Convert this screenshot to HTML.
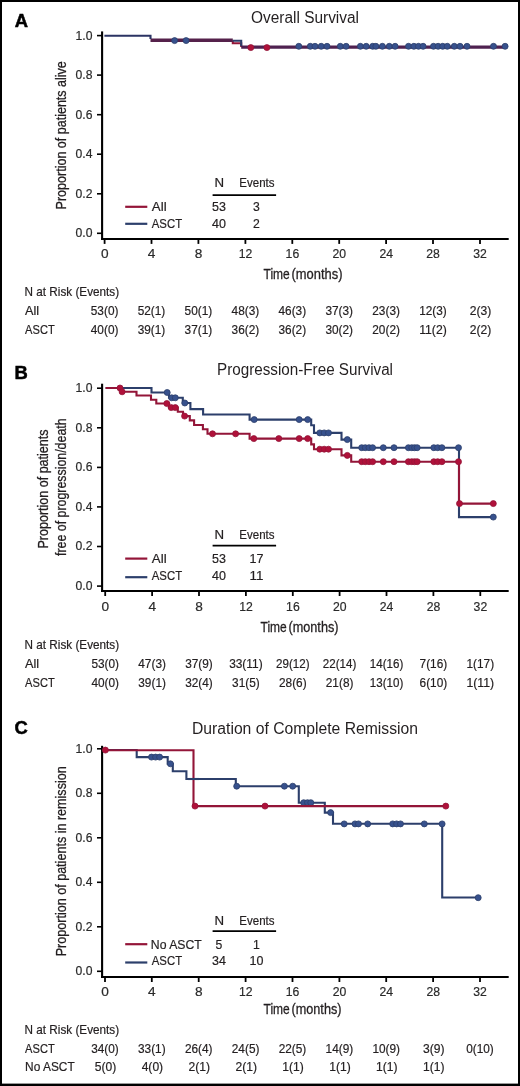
<!DOCTYPE html>
<html><head><meta charset="utf-8"><title>Survival curves</title>
<style>
html,body{margin:0;padding:0;background:#fff;}
body{width:520px;height:1086px;overflow:hidden;position:relative;font-family:"Liberation Sans", sans-serif;}
svg{position:absolute;left:0;top:0;display:block;font-family:"Liberation Sans", sans-serif;will-change:transform;}
</style></head>
<body>
<svg width="520" height="1086" viewBox="0 0 520 1086">
<rect x="0" y="0" width="520" height="1086" fill="#fff"/>
<line x1="102.1" y1="31.4" x2="102.1" y2="239.9" stroke="#000" stroke-width="2.1"/>
<line x1="101" y1="238.9" x2="508.7" y2="238.9" stroke="#000" stroke-width="2"/>
<line x1="97" y1="233.3" x2="102" y2="233.3" stroke="#000" stroke-width="1.6"/>
<text x="92.4" y="237.2" font-size="12.9" text-anchor="end" textLength="16.9" lengthAdjust="spacingAndGlyphs" fill="#2a2a2a" stroke="#2a2a2a" stroke-width="0.2">0.0</text>
<line x1="97" y1="193.8" x2="102" y2="193.8" stroke="#000" stroke-width="1.6"/>
<text x="92.4" y="197.7" font-size="12.9" text-anchor="end" textLength="16.9" lengthAdjust="spacingAndGlyphs" fill="#2a2a2a" stroke="#2a2a2a" stroke-width="0.2">0.2</text>
<line x1="97" y1="154.2" x2="102" y2="154.2" stroke="#000" stroke-width="1.6"/>
<text x="92.4" y="158.1" font-size="12.9" text-anchor="end" textLength="16.9" lengthAdjust="spacingAndGlyphs" fill="#2a2a2a" stroke="#2a2a2a" stroke-width="0.2">0.4</text>
<line x1="97" y1="114.7" x2="102" y2="114.7" stroke="#000" stroke-width="1.6"/>
<text x="92.4" y="118.6" font-size="12.9" text-anchor="end" textLength="16.9" lengthAdjust="spacingAndGlyphs" fill="#2a2a2a" stroke="#2a2a2a" stroke-width="0.2">0.6</text>
<line x1="97" y1="75.1" x2="102" y2="75.1" stroke="#000" stroke-width="1.6"/>
<text x="92.4" y="79.0" font-size="12.9" text-anchor="end" textLength="16.9" lengthAdjust="spacingAndGlyphs" fill="#2a2a2a" stroke="#2a2a2a" stroke-width="0.2">0.8</text>
<line x1="97" y1="35.6" x2="102" y2="35.6" stroke="#000" stroke-width="1.6"/>
<text x="92.4" y="39.5" font-size="12.9" text-anchor="end" textLength="16.9" lengthAdjust="spacingAndGlyphs" fill="#2a2a2a" stroke="#2a2a2a" stroke-width="0.2">1.0</text>
<line x1="104.6" y1="238.9" x2="104.6" y2="243.9" stroke="#000" stroke-width="1.8"/>
<text x="104.7" y="257.7" font-size="13.4" text-anchor="middle" textLength="7.6" lengthAdjust="spacingAndGlyphs" fill="#2a2a2a" stroke="#2a2a2a" stroke-width="0.2">0</text>
<line x1="151.5" y1="238.9" x2="151.5" y2="243.9" stroke="#000" stroke-width="1.8"/>
<text x="151.6" y="257.7" font-size="13.4" text-anchor="middle" textLength="7.6" lengthAdjust="spacingAndGlyphs" fill="#2a2a2a" stroke="#2a2a2a" stroke-width="0.2">4</text>
<line x1="198.4" y1="238.9" x2="198.4" y2="243.9" stroke="#000" stroke-width="1.8"/>
<text x="198.5" y="257.7" font-size="13.4" text-anchor="middle" textLength="7.6" lengthAdjust="spacingAndGlyphs" fill="#2a2a2a" stroke="#2a2a2a" stroke-width="0.2">8</text>
<line x1="245.4" y1="238.9" x2="245.4" y2="243.9" stroke="#000" stroke-width="1.8"/>
<text x="245.5" y="257.7" font-size="13.4" text-anchor="middle" textLength="13.6" lengthAdjust="spacingAndGlyphs" fill="#2a2a2a" stroke="#2a2a2a" stroke-width="0.2">12</text>
<line x1="292.3" y1="238.9" x2="292.3" y2="243.9" stroke="#000" stroke-width="1.8"/>
<text x="292.4" y="257.7" font-size="13.4" text-anchor="middle" textLength="13.6" lengthAdjust="spacingAndGlyphs" fill="#2a2a2a" stroke="#2a2a2a" stroke-width="0.2">16</text>
<line x1="339.2" y1="238.9" x2="339.2" y2="243.9" stroke="#000" stroke-width="1.8"/>
<text x="339.3" y="257.7" font-size="13.4" text-anchor="middle" textLength="13.6" lengthAdjust="spacingAndGlyphs" fill="#2a2a2a" stroke="#2a2a2a" stroke-width="0.2">20</text>
<line x1="386.1" y1="238.9" x2="386.1" y2="243.9" stroke="#000" stroke-width="1.8"/>
<text x="386.2" y="257.7" font-size="13.4" text-anchor="middle" textLength="13.6" lengthAdjust="spacingAndGlyphs" fill="#2a2a2a" stroke="#2a2a2a" stroke-width="0.2">24</text>
<line x1="433.0" y1="238.9" x2="433.0" y2="243.9" stroke="#000" stroke-width="1.8"/>
<text x="433.1" y="257.7" font-size="13.4" text-anchor="middle" textLength="13.6" lengthAdjust="spacingAndGlyphs" fill="#2a2a2a" stroke="#2a2a2a" stroke-width="0.2">28</text>
<line x1="480.0" y1="238.9" x2="480.0" y2="243.9" stroke="#000" stroke-width="1.8"/>
<text x="480.1" y="257.7" font-size="13.4" text-anchor="middle" textLength="13.6" lengthAdjust="spacingAndGlyphs" fill="#2a2a2a" stroke="#2a2a2a" stroke-width="0.2">32</text>
<text x="14.8" y="26.5" font-size="18.4" text-anchor="start" font-weight="bold" fill="#000" stroke="#000" stroke-width="0.5">A</text>
<text x="305" y="22.9" font-size="16" text-anchor="middle" textLength="108" lengthAdjust="spacingAndGlyphs" fill="#231f20" >Overall Survival</text>
<text transform="translate(66,135.3) rotate(-90)" x="0" y="0" font-size="15.5" text-anchor="middle" textLength="148.2" lengthAdjust="spacingAndGlyphs" fill="#231f20" stroke="#231f20" stroke-width="0.3">Proportion of patients alive</text>
<text x="263.5" y="279.4" font-size="14.6" text-anchor="start" textLength="26.2" lengthAdjust="spacingAndGlyphs" fill="#231f20" stroke="#231f20" stroke-width="0.3">Time</text>
<text x="291.5" y="279.4" font-size="14.6" text-anchor="start" textLength="51.0" lengthAdjust="spacingAndGlyphs" fill="#231f20" stroke="#231f20" stroke-width="0.3">(months)</text>
<text x="214.6" y="186.6" font-size="12.6" text-anchor="start" textLength="9.6" lengthAdjust="spacingAndGlyphs" fill="#231f20" stroke="#231f20" stroke-width="0.2">N</text>
<text x="239.3" y="186.6" font-size="12.6" text-anchor="start" textLength="35.2" lengthAdjust="spacingAndGlyphs" fill="#231f20" stroke="#231f20" stroke-width="0.2">Events</text>
<line x1="212.6" y1="195.1" x2="276.1" y2="195.1" stroke="#000" stroke-width="1.8"/>
<line x1="125.2" y1="206.8" x2="147.3" y2="206.8" stroke="#931538" stroke-width="2.2"/>
<text x="151.8" y="210.6" font-size="12.6" text-anchor="start" textLength="14.8" lengthAdjust="spacingAndGlyphs" fill="#231f20" stroke="#231f20" stroke-width="0.2">All</text>
<text x="219" y="210.6" font-size="12.6" text-anchor="middle" textLength="13.9" lengthAdjust="spacingAndGlyphs" fill="#231f20" stroke="#231f20" stroke-width="0.2">53</text>
<text x="256.5" y="210.6" font-size="12.6" text-anchor="middle" textLength="6.8" lengthAdjust="spacingAndGlyphs" fill="#231f20" stroke="#231f20" stroke-width="0.2">3</text>
<line x1="125.2" y1="223.8" x2="147.3" y2="223.8" stroke="#2c3f6b" stroke-width="2.2"/>
<text x="151.8" y="227.9" font-size="12.6" text-anchor="start" textLength="30.3" lengthAdjust="spacingAndGlyphs" fill="#231f20" stroke="#231f20" stroke-width="0.2">ASCT</text>
<text x="219" y="227.9" font-size="12.6" text-anchor="middle" textLength="13.9" lengthAdjust="spacingAndGlyphs" fill="#231f20" stroke="#231f20" stroke-width="0.2">40</text>
<text x="256.5" y="227.9" font-size="12.6" text-anchor="middle" textLength="6.8" lengthAdjust="spacingAndGlyphs" fill="#231f20" stroke="#231f20" stroke-width="0.2">2</text>
<text x="24.6" y="295.8" font-size="12.4" text-anchor="start" textLength="94.5" lengthAdjust="spacingAndGlyphs" fill="#231f20" stroke="#231f20" stroke-width="0.2">N at Risk (Events)</text>
<text x="25.1" y="314.9" font-size="12.4" text-anchor="start" textLength="14.1" lengthAdjust="spacingAndGlyphs" fill="#231f20" stroke="#231f20" stroke-width="0.2">All</text>
<text x="104.6" y="314.9" font-size="12.4" text-anchor="middle" textLength="27.6" lengthAdjust="spacingAndGlyphs" fill="#231f20" stroke="#231f20" stroke-width="0.2">53(0)</text>
<text x="151.5" y="314.9" font-size="12.4" text-anchor="middle" textLength="27.6" lengthAdjust="spacingAndGlyphs" fill="#231f20" stroke="#231f20" stroke-width="0.2">52(1)</text>
<text x="198.4" y="314.9" font-size="12.4" text-anchor="middle" textLength="27.6" lengthAdjust="spacingAndGlyphs" fill="#231f20" stroke="#231f20" stroke-width="0.2">50(1)</text>
<text x="245.4" y="314.9" font-size="12.4" text-anchor="middle" textLength="27.6" lengthAdjust="spacingAndGlyphs" fill="#231f20" stroke="#231f20" stroke-width="0.2">48(3)</text>
<text x="292.3" y="314.9" font-size="12.4" text-anchor="middle" textLength="27.6" lengthAdjust="spacingAndGlyphs" fill="#231f20" stroke="#231f20" stroke-width="0.2">46(3)</text>
<text x="339.2" y="314.9" font-size="12.4" text-anchor="middle" textLength="27.6" lengthAdjust="spacingAndGlyphs" fill="#231f20" stroke="#231f20" stroke-width="0.2">37(3)</text>
<text x="386.1" y="314.9" font-size="12.4" text-anchor="middle" textLength="27.6" lengthAdjust="spacingAndGlyphs" fill="#231f20" stroke="#231f20" stroke-width="0.2">23(3)</text>
<text x="433.0" y="314.9" font-size="12.4" text-anchor="middle" textLength="27.6" lengthAdjust="spacingAndGlyphs" fill="#231f20" stroke="#231f20" stroke-width="0.2">12(3)</text>
<text x="480.6" y="314.9" font-size="12.4" text-anchor="middle" textLength="21.5" lengthAdjust="spacingAndGlyphs" fill="#231f20" stroke="#231f20" stroke-width="0.2">2(3)</text>
<text x="25.1" y="333.7" font-size="12.4" text-anchor="start" textLength="29.6" lengthAdjust="spacingAndGlyphs" fill="#231f20" stroke="#231f20" stroke-width="0.2">ASCT</text>
<text x="104.6" y="333.7" font-size="12.4" text-anchor="middle" textLength="27.6" lengthAdjust="spacingAndGlyphs" fill="#231f20" stroke="#231f20" stroke-width="0.2">40(0)</text>
<text x="151.5" y="333.7" font-size="12.4" text-anchor="middle" textLength="27.6" lengthAdjust="spacingAndGlyphs" fill="#231f20" stroke="#231f20" stroke-width="0.2">39(1)</text>
<text x="198.4" y="333.7" font-size="12.4" text-anchor="middle" textLength="27.6" lengthAdjust="spacingAndGlyphs" fill="#231f20" stroke="#231f20" stroke-width="0.2">37(1)</text>
<text x="245.4" y="333.7" font-size="12.4" text-anchor="middle" textLength="27.6" lengthAdjust="spacingAndGlyphs" fill="#231f20" stroke="#231f20" stroke-width="0.2">36(2)</text>
<text x="292.3" y="333.7" font-size="12.4" text-anchor="middle" textLength="27.6" lengthAdjust="spacingAndGlyphs" fill="#231f20" stroke="#231f20" stroke-width="0.2">36(2)</text>
<text x="339.2" y="333.7" font-size="12.4" text-anchor="middle" textLength="27.6" lengthAdjust="spacingAndGlyphs" fill="#231f20" stroke="#231f20" stroke-width="0.2">30(2)</text>
<text x="386.1" y="333.7" font-size="12.4" text-anchor="middle" textLength="27.6" lengthAdjust="spacingAndGlyphs" fill="#231f20" stroke="#231f20" stroke-width="0.2">20(2)</text>
<text x="433.0" y="333.7" font-size="12.4" text-anchor="middle" textLength="27.6" lengthAdjust="spacingAndGlyphs" fill="#231f20" stroke="#231f20" stroke-width="0.2">11(2)</text>
<text x="480.6" y="333.7" font-size="12.4" text-anchor="middle" textLength="21.5" lengthAdjust="spacingAndGlyphs" fill="#231f20" stroke="#231f20" stroke-width="0.2">2(2)</text>
<path d="M232.8,40.2 V43.3 H241.2 V47.1" fill="none" stroke="#931538" stroke-width="2.1" stroke-linejoin="miter" stroke-linecap="butt"/><path d="M150.5,40.25 H232.8" fill="none" stroke="#55214b" stroke-width="3.7" stroke-linejoin="miter" stroke-linecap="butt"/><path d="M241.2,47.1 H506.7" fill="none" stroke="#4f2150" stroke-width="3.4" stroke-linejoin="miter" stroke-linecap="butt"/>
<path d="M104.4,35.8 H150.5 V39" fill="none" stroke="#2b3363" stroke-width="2.1" stroke-linejoin="miter" stroke-linecap="butt"/><path d="M232.8,40.8 H241.2 V46" fill="none" stroke="#2c3f6b" stroke-width="2.1" stroke-linejoin="miter" stroke-linecap="butt"/>
<circle cx="250.8" cy="47.6" r="3.0" fill="#b0113a" stroke="#931538" stroke-width="0.8"/><circle cx="266.9" cy="47.6" r="3.0" fill="#b0113a" stroke="#931538" stroke-width="0.8"/>
<circle cx="174.6" cy="40.6" r="3.0" fill="#37518d" stroke="#2c3f6b" stroke-width="0.8"/><circle cx="186.1" cy="40.6" r="3.0" fill="#37518d" stroke="#2c3f6b" stroke-width="0.8"/><circle cx="298.8" cy="46.3" r="3.0" fill="#37518d" stroke="#2c3f6b" stroke-width="0.8"/><circle cx="310.3" cy="46.3" r="3.0" fill="#37518d" stroke="#2c3f6b" stroke-width="0.8"/><circle cx="315" cy="46.3" r="3.0" fill="#37518d" stroke="#2c3f6b" stroke-width="0.8"/><circle cx="321.2" cy="46.3" r="3.0" fill="#37518d" stroke="#2c3f6b" stroke-width="0.8"/><circle cx="327" cy="46.3" r="3.0" fill="#37518d" stroke="#2c3f6b" stroke-width="0.8"/><circle cx="340.3" cy="46.3" r="3.0" fill="#37518d" stroke="#2c3f6b" stroke-width="0.8"/><circle cx="346.1" cy="46.3" r="3.0" fill="#37518d" stroke="#2c3f6b" stroke-width="0.8"/><circle cx="360.4" cy="46.3" r="3.0" fill="#37518d" stroke="#2c3f6b" stroke-width="0.8"/><circle cx="366.2" cy="46.3" r="3.0" fill="#37518d" stroke="#2c3f6b" stroke-width="0.8"/><circle cx="372.7" cy="46.3" r="3.0" fill="#37518d" stroke="#2c3f6b" stroke-width="0.8"/><circle cx="375.9" cy="46.3" r="3.0" fill="#37518d" stroke="#2c3f6b" stroke-width="0.8"/><circle cx="382.4" cy="46.3" r="3.0" fill="#37518d" stroke="#2c3f6b" stroke-width="0.8"/><circle cx="389.3" cy="46.3" r="3.0" fill="#37518d" stroke="#2c3f6b" stroke-width="0.8"/><circle cx="395.1" cy="46.3" r="3.0" fill="#37518d" stroke="#2c3f6b" stroke-width="0.8"/><circle cx="408.5" cy="46.3" r="3.0" fill="#37518d" stroke="#2c3f6b" stroke-width="0.8"/><circle cx="413.9" cy="46.3" r="3.0" fill="#37518d" stroke="#2c3f6b" stroke-width="0.8"/><circle cx="418.5" cy="46.3" r="3.0" fill="#37518d" stroke="#2c3f6b" stroke-width="0.8"/><circle cx="423.1" cy="46.3" r="3.0" fill="#37518d" stroke="#2c3f6b" stroke-width="0.8"/><circle cx="433.5" cy="46.3" r="3.0" fill="#37518d" stroke="#2c3f6b" stroke-width="0.8"/><circle cx="438.1" cy="46.3" r="3.0" fill="#37518d" stroke="#2c3f6b" stroke-width="0.8"/><circle cx="442.7" cy="46.3" r="3.0" fill="#37518d" stroke="#2c3f6b" stroke-width="0.8"/><circle cx="447.3" cy="46.3" r="3.0" fill="#37518d" stroke="#2c3f6b" stroke-width="0.8"/><circle cx="454.3" cy="46.3" r="3.0" fill="#37518d" stroke="#2c3f6b" stroke-width="0.8"/><circle cx="460" cy="46.3" r="3.0" fill="#37518d" stroke="#2c3f6b" stroke-width="0.8"/><circle cx="467" cy="46.3" r="3.0" fill="#37518d" stroke="#2c3f6b" stroke-width="0.8"/><circle cx="493.5" cy="46.3" r="3.0" fill="#37518d" stroke="#2c3f6b" stroke-width="0.8"/><circle cx="505.1" cy="46.3" r="3.0" fill="#37518d" stroke="#2c3f6b" stroke-width="0.8"/>
<line x1="102.1" y1="383.7" x2="102.1" y2="592.0" stroke="#000" stroke-width="2.1"/>
<line x1="101" y1="591.0" x2="508.7" y2="591.0" stroke="#000" stroke-width="2"/>
<line x1="97" y1="586.1" x2="102" y2="586.1" stroke="#000" stroke-width="1.6"/>
<text x="92.4" y="590.0" font-size="12.9" text-anchor="end" textLength="16.9" lengthAdjust="spacingAndGlyphs" fill="#2a2a2a" stroke="#2a2a2a" stroke-width="0.2">0.0</text>
<line x1="97" y1="546.5" x2="102" y2="546.5" stroke="#000" stroke-width="1.6"/>
<text x="92.4" y="550.4" font-size="12.9" text-anchor="end" textLength="16.9" lengthAdjust="spacingAndGlyphs" fill="#2a2a2a" stroke="#2a2a2a" stroke-width="0.2">0.2</text>
<line x1="97" y1="506.9" x2="102" y2="506.9" stroke="#000" stroke-width="1.6"/>
<text x="92.4" y="510.8" font-size="12.9" text-anchor="end" textLength="16.9" lengthAdjust="spacingAndGlyphs" fill="#2a2a2a" stroke="#2a2a2a" stroke-width="0.2">0.4</text>
<line x1="97" y1="467.4" x2="102" y2="467.4" stroke="#000" stroke-width="1.6"/>
<text x="92.4" y="471.3" font-size="12.9" text-anchor="end" textLength="16.9" lengthAdjust="spacingAndGlyphs" fill="#2a2a2a" stroke="#2a2a2a" stroke-width="0.2">0.6</text>
<line x1="97" y1="427.8" x2="102" y2="427.8" stroke="#000" stroke-width="1.6"/>
<text x="92.4" y="431.7" font-size="12.9" text-anchor="end" textLength="16.9" lengthAdjust="spacingAndGlyphs" fill="#2a2a2a" stroke="#2a2a2a" stroke-width="0.2">0.8</text>
<line x1="97" y1="388.2" x2="102" y2="388.2" stroke="#000" stroke-width="1.6"/>
<text x="92.4" y="392.1" font-size="12.9" text-anchor="end" textLength="16.9" lengthAdjust="spacingAndGlyphs" fill="#2a2a2a" stroke="#2a2a2a" stroke-width="0.2">1.0</text>
<line x1="105.2" y1="591.0" x2="105.2" y2="596.0" stroke="#000" stroke-width="1.8"/>
<text x="105.3" y="610.8000000000001" font-size="13.4" text-anchor="middle" textLength="7.6" lengthAdjust="spacingAndGlyphs" fill="#2a2a2a" stroke="#2a2a2a" stroke-width="0.2">0</text>
<line x1="152.1" y1="591.0" x2="152.1" y2="596.0" stroke="#000" stroke-width="1.8"/>
<text x="152.2" y="610.8000000000001" font-size="13.4" text-anchor="middle" textLength="7.6" lengthAdjust="spacingAndGlyphs" fill="#2a2a2a" stroke="#2a2a2a" stroke-width="0.2">4</text>
<line x1="199.0" y1="591.0" x2="199.0" y2="596.0" stroke="#000" stroke-width="1.8"/>
<text x="199.1" y="610.8000000000001" font-size="13.4" text-anchor="middle" textLength="7.6" lengthAdjust="spacingAndGlyphs" fill="#2a2a2a" stroke="#2a2a2a" stroke-width="0.2">8</text>
<line x1="245.9" y1="591.0" x2="245.9" y2="596.0" stroke="#000" stroke-width="1.8"/>
<text x="246.0" y="610.8000000000001" font-size="13.4" text-anchor="middle" textLength="13.6" lengthAdjust="spacingAndGlyphs" fill="#2a2a2a" stroke="#2a2a2a" stroke-width="0.2">12</text>
<line x1="292.8" y1="591.0" x2="292.8" y2="596.0" stroke="#000" stroke-width="1.8"/>
<text x="292.9" y="610.8000000000001" font-size="13.4" text-anchor="middle" textLength="13.6" lengthAdjust="spacingAndGlyphs" fill="#2a2a2a" stroke="#2a2a2a" stroke-width="0.2">16</text>
<line x1="339.6" y1="591.0" x2="339.6" y2="596.0" stroke="#000" stroke-width="1.8"/>
<text x="339.8" y="610.8000000000001" font-size="13.4" text-anchor="middle" textLength="13.6" lengthAdjust="spacingAndGlyphs" fill="#2a2a2a" stroke="#2a2a2a" stroke-width="0.2">20</text>
<line x1="386.5" y1="591.0" x2="386.5" y2="596.0" stroke="#000" stroke-width="1.8"/>
<text x="386.6" y="610.8000000000001" font-size="13.4" text-anchor="middle" textLength="13.6" lengthAdjust="spacingAndGlyphs" fill="#2a2a2a" stroke="#2a2a2a" stroke-width="0.2">24</text>
<line x1="433.4" y1="591.0" x2="433.4" y2="596.0" stroke="#000" stroke-width="1.8"/>
<text x="433.5" y="610.8000000000001" font-size="13.4" text-anchor="middle" textLength="13.6" lengthAdjust="spacingAndGlyphs" fill="#2a2a2a" stroke="#2a2a2a" stroke-width="0.2">28</text>
<line x1="480.3" y1="591.0" x2="480.3" y2="596.0" stroke="#000" stroke-width="1.8"/>
<text x="480.4" y="610.8000000000001" font-size="13.4" text-anchor="middle" textLength="13.6" lengthAdjust="spacingAndGlyphs" fill="#2a2a2a" stroke="#2a2a2a" stroke-width="0.2">32</text>
<text x="14.4" y="378.8" font-size="18.4" text-anchor="start" font-weight="bold" fill="#000" stroke="#000" stroke-width="0.5">B</text>
<text x="305" y="374.8" font-size="16" text-anchor="middle" textLength="176" lengthAdjust="spacingAndGlyphs" fill="#231f20" >Progression-Free Survival</text>
<text transform="translate(47.7,489) rotate(-90)" x="0" y="0" font-size="15.5" text-anchor="middle" textLength="119" lengthAdjust="spacingAndGlyphs" fill="#231f20" stroke="#231f20" stroke-width="0.3">Proportion of patients</text>
<text transform="translate(65.9,487.2) rotate(-90)" x="0" y="0" font-size="15.5" text-anchor="middle" textLength="137.6" lengthAdjust="spacingAndGlyphs" fill="#231f20" stroke="#231f20" stroke-width="0.3">free of progression/death</text>
<text x="260.5" y="632.1" font-size="14.6" text-anchor="start" textLength="26.2" lengthAdjust="spacingAndGlyphs" fill="#231f20" stroke="#231f20" stroke-width="0.3">Time</text>
<text x="288.5" y="632.1" font-size="14.6" text-anchor="start" textLength="50.0" lengthAdjust="spacingAndGlyphs" fill="#231f20" stroke="#231f20" stroke-width="0.3">(months)</text>
<text x="214.6" y="539" font-size="12.6" text-anchor="start" textLength="9.6" lengthAdjust="spacingAndGlyphs" fill="#231f20" stroke="#231f20" stroke-width="0.2">N</text>
<text x="239.3" y="539" font-size="12.6" text-anchor="start" textLength="35.2" lengthAdjust="spacingAndGlyphs" fill="#231f20" stroke="#231f20" stroke-width="0.2">Events</text>
<line x1="212.6" y1="545.6" x2="276.1" y2="545.6" stroke="#000" stroke-width="1.8"/>
<line x1="125.2" y1="558.6" x2="147.3" y2="558.6" stroke="#931538" stroke-width="2.2"/>
<text x="151.8" y="562.6" font-size="12.6" text-anchor="start" textLength="14.8" lengthAdjust="spacingAndGlyphs" fill="#231f20" stroke="#231f20" stroke-width="0.2">All</text>
<text x="219" y="562.6" font-size="12.6" text-anchor="middle" textLength="13.9" lengthAdjust="spacingAndGlyphs" fill="#231f20" stroke="#231f20" stroke-width="0.2">53</text>
<text x="256.5" y="562.6" font-size="12.6" text-anchor="middle" textLength="13.9" lengthAdjust="spacingAndGlyphs" fill="#231f20" stroke="#231f20" stroke-width="0.2">17</text>
<line x1="125.2" y1="577.2" x2="147.3" y2="577.2" stroke="#2c3f6b" stroke-width="2.2"/>
<text x="151.8" y="579.9" font-size="12.6" text-anchor="start" textLength="30.3" lengthAdjust="spacingAndGlyphs" fill="#231f20" stroke="#231f20" stroke-width="0.2">ASCT</text>
<text x="219" y="579.9" font-size="12.6" text-anchor="middle" textLength="13.9" lengthAdjust="spacingAndGlyphs" fill="#231f20" stroke="#231f20" stroke-width="0.2">40</text>
<text x="256.5" y="579.9" font-size="12.6" text-anchor="middle" textLength="13.9" lengthAdjust="spacingAndGlyphs" fill="#231f20" stroke="#231f20" stroke-width="0.2">11</text>
<text x="24.6" y="649.3" font-size="12.4" text-anchor="start" textLength="94.5" lengthAdjust="spacingAndGlyphs" fill="#231f20" stroke="#231f20" stroke-width="0.2">N at Risk (Events)</text>
<text x="25.1" y="668.0" font-size="12.4" text-anchor="start" textLength="14.1" lengthAdjust="spacingAndGlyphs" fill="#231f20" stroke="#231f20" stroke-width="0.2">All</text>
<text x="105.2" y="668.0" font-size="12.4" text-anchor="middle" textLength="27.6" lengthAdjust="spacingAndGlyphs" fill="#231f20" stroke="#231f20" stroke-width="0.2">53(0)</text>
<text x="152.1" y="668.0" font-size="12.4" text-anchor="middle" textLength="27.6" lengthAdjust="spacingAndGlyphs" fill="#231f20" stroke="#231f20" stroke-width="0.2">47(3)</text>
<text x="199.0" y="668.0" font-size="12.4" text-anchor="middle" textLength="27.6" lengthAdjust="spacingAndGlyphs" fill="#231f20" stroke="#231f20" stroke-width="0.2">37(9)</text>
<text x="245.9" y="668.0" font-size="12.4" text-anchor="middle" textLength="33.5" lengthAdjust="spacingAndGlyphs" fill="#231f20" stroke="#231f20" stroke-width="0.2">33(11)</text>
<text x="292.8" y="668.0" font-size="12.4" text-anchor="middle" textLength="33.5" lengthAdjust="spacingAndGlyphs" fill="#231f20" stroke="#231f20" stroke-width="0.2">29(12)</text>
<text x="339.6" y="668.0" font-size="12.4" text-anchor="middle" textLength="33.5" lengthAdjust="spacingAndGlyphs" fill="#231f20" stroke="#231f20" stroke-width="0.2">22(14)</text>
<text x="386.5" y="668.0" font-size="12.4" text-anchor="middle" textLength="33.5" lengthAdjust="spacingAndGlyphs" fill="#231f20" stroke="#231f20" stroke-width="0.2">14(16)</text>
<text x="433.4" y="668.0" font-size="12.4" text-anchor="middle" textLength="27.6" lengthAdjust="spacingAndGlyphs" fill="#231f20" stroke="#231f20" stroke-width="0.2">7(16)</text>
<text x="480.3" y="668.0" font-size="12.4" text-anchor="middle" textLength="27.6" lengthAdjust="spacingAndGlyphs" fill="#231f20" stroke="#231f20" stroke-width="0.2">1(17)</text>
<text x="25.1" y="687.3" font-size="12.4" text-anchor="start" textLength="29.6" lengthAdjust="spacingAndGlyphs" fill="#231f20" stroke="#231f20" stroke-width="0.2">ASCT</text>
<text x="105.2" y="687.3" font-size="12.4" text-anchor="middle" textLength="27.6" lengthAdjust="spacingAndGlyphs" fill="#231f20" stroke="#231f20" stroke-width="0.2">40(0)</text>
<text x="152.1" y="687.3" font-size="12.4" text-anchor="middle" textLength="27.6" lengthAdjust="spacingAndGlyphs" fill="#231f20" stroke="#231f20" stroke-width="0.2">39(1)</text>
<text x="199.0" y="687.3" font-size="12.4" text-anchor="middle" textLength="27.6" lengthAdjust="spacingAndGlyphs" fill="#231f20" stroke="#231f20" stroke-width="0.2">32(4)</text>
<text x="245.9" y="687.3" font-size="12.4" text-anchor="middle" textLength="27.6" lengthAdjust="spacingAndGlyphs" fill="#231f20" stroke="#231f20" stroke-width="0.2">31(5)</text>
<text x="292.8" y="687.3" font-size="12.4" text-anchor="middle" textLength="27.6" lengthAdjust="spacingAndGlyphs" fill="#231f20" stroke="#231f20" stroke-width="0.2">28(6)</text>
<text x="339.6" y="687.3" font-size="12.4" text-anchor="middle" textLength="27.6" lengthAdjust="spacingAndGlyphs" fill="#231f20" stroke="#231f20" stroke-width="0.2">21(8)</text>
<text x="386.5" y="687.3" font-size="12.4" text-anchor="middle" textLength="33.5" lengthAdjust="spacingAndGlyphs" fill="#231f20" stroke="#231f20" stroke-width="0.2">13(10)</text>
<text x="433.4" y="687.3" font-size="12.4" text-anchor="middle" textLength="27.6" lengthAdjust="spacingAndGlyphs" fill="#231f20" stroke="#231f20" stroke-width="0.2">6(10)</text>
<text x="480.3" y="687.3" font-size="12.4" text-anchor="middle" textLength="27.6" lengthAdjust="spacingAndGlyphs" fill="#231f20" stroke="#231f20" stroke-width="0.2">1(11)</text>
<path d="M105.6,388 H151.5 V392.5 H169 V397.8 H182.8 V403 H190.4 V409.1 H203.1 V414.5 H249.6 V419.6 H311.2 V425.2 H314 V432.9 H341.5 V439.6 H351.2 V447.7 H459 V517.1 H493.3" fill="none" stroke="#2c3f6b" stroke-width="2.1" stroke-linejoin="miter" stroke-linecap="butt"/>
<circle cx="167.2" cy="392.5" r="3.0" fill="#37518d" stroke="#2c3f6b" stroke-width="0.8"/><circle cx="171.7" cy="397.8" r="3.0" fill="#37518d" stroke="#2c3f6b" stroke-width="0.8"/><circle cx="175.3" cy="397.8" r="3.0" fill="#37518d" stroke="#2c3f6b" stroke-width="0.8"/><circle cx="184.8" cy="403" r="3.0" fill="#37518d" stroke="#2c3f6b" stroke-width="0.8"/><circle cx="254.2" cy="419.6" r="3.0" fill="#37518d" stroke="#2c3f6b" stroke-width="0.8"/><circle cx="299.2" cy="419.6" r="3.0" fill="#37518d" stroke="#2c3f6b" stroke-width="0.8"/><circle cx="307.7" cy="419.6" r="3.0" fill="#37518d" stroke="#2c3f6b" stroke-width="0.8"/><circle cx="319.8" cy="432.9" r="3.0" fill="#37518d" stroke="#2c3f6b" stroke-width="0.8"/><circle cx="324.2" cy="432.9" r="3.0" fill="#37518d" stroke="#2c3f6b" stroke-width="0.8"/><circle cx="328.5" cy="432.9" r="3.0" fill="#37518d" stroke="#2c3f6b" stroke-width="0.8"/><circle cx="347.3" cy="439.6" r="3.0" fill="#37518d" stroke="#2c3f6b" stroke-width="0.8"/><circle cx="361.7" cy="447.7" r="3.0" fill="#37518d" stroke="#2c3f6b" stroke-width="0.8"/><circle cx="365.3" cy="447.7" r="3.0" fill="#37518d" stroke="#2c3f6b" stroke-width="0.8"/><circle cx="369" cy="447.7" r="3.0" fill="#37518d" stroke="#2c3f6b" stroke-width="0.8"/><circle cx="372.6" cy="447.7" r="3.0" fill="#37518d" stroke="#2c3f6b" stroke-width="0.8"/><circle cx="383.3" cy="447.7" r="3.0" fill="#37518d" stroke="#2c3f6b" stroke-width="0.8"/><circle cx="394" cy="447.7" r="3.0" fill="#37518d" stroke="#2c3f6b" stroke-width="0.8"/><circle cx="408.4" cy="447.7" r="3.0" fill="#37518d" stroke="#2c3f6b" stroke-width="0.8"/><circle cx="411.8" cy="447.7" r="3.0" fill="#37518d" stroke="#2c3f6b" stroke-width="0.8"/><circle cx="414.6" cy="447.7" r="3.0" fill="#37518d" stroke="#2c3f6b" stroke-width="0.8"/><circle cx="417.2" cy="447.7" r="3.0" fill="#37518d" stroke="#2c3f6b" stroke-width="0.8"/><circle cx="433.8" cy="447.7" r="3.0" fill="#37518d" stroke="#2c3f6b" stroke-width="0.8"/><circle cx="437.7" cy="447.7" r="3.0" fill="#37518d" stroke="#2c3f6b" stroke-width="0.8"/><circle cx="441.9" cy="447.7" r="3.0" fill="#37518d" stroke="#2c3f6b" stroke-width="0.8"/><circle cx="458.5" cy="447.7" r="3.0" fill="#37518d" stroke="#2c3f6b" stroke-width="0.8"/><circle cx="493.3" cy="517.1" r="3.0" fill="#37518d" stroke="#2c3f6b" stroke-width="0.8"/>
<path d="M105.6,388 H120.7 V391.8 H136.5 V395.5 H151 V399.7 H156.3 V403.5 H169 V407.6 H177.8 V411.8 H183 V416.1 H189.8 V420.4 H194.1 V425 H202.9 V429.2 H207.5 V433.8 H249.6 V438.6 H311.2 V444.4 H314 V449.2 H341.5 V455.4 H351.2 V461.7 H459 V503.6 H493.3" fill="none" stroke="#931538" stroke-width="2.1" stroke-linejoin="miter" stroke-linecap="butt"/>
<circle cx="120" cy="388" r="3.0" fill="#b0113a" stroke="#931538" stroke-width="0.8"/><circle cx="122.1" cy="391.8" r="3.0" fill="#b0113a" stroke="#931538" stroke-width="0.8"/><circle cx="166.8" cy="403.5" r="3.0" fill="#b0113a" stroke="#931538" stroke-width="0.8"/><circle cx="171.2" cy="407.6" r="3.0" fill="#b0113a" stroke="#931538" stroke-width="0.8"/><circle cx="175.3" cy="407.6" r="3.0" fill="#b0113a" stroke="#931538" stroke-width="0.8"/><circle cx="184.6" cy="416.1" r="3.0" fill="#b0113a" stroke="#931538" stroke-width="0.8"/><circle cx="212.5" cy="433.8" r="3.0" fill="#b0113a" stroke="#931538" stroke-width="0.8"/><circle cx="235.6" cy="433.8" r="3.0" fill="#b0113a" stroke="#931538" stroke-width="0.8"/><circle cx="253.8" cy="438.6" r="3.0" fill="#b0113a" stroke="#931538" stroke-width="0.8"/><circle cx="278.8" cy="438.6" r="3.0" fill="#b0113a" stroke="#931538" stroke-width="0.8"/><circle cx="299.2" cy="438.6" r="3.0" fill="#b0113a" stroke="#931538" stroke-width="0.8"/><circle cx="307.7" cy="438.6" r="3.0" fill="#b0113a" stroke="#931538" stroke-width="0.8"/><circle cx="319.8" cy="449.2" r="3.0" fill="#b0113a" stroke="#931538" stroke-width="0.8"/><circle cx="324.2" cy="449.2" r="3.0" fill="#b0113a" stroke="#931538" stroke-width="0.8"/><circle cx="328.5" cy="449.2" r="3.0" fill="#b0113a" stroke="#931538" stroke-width="0.8"/><circle cx="347.3" cy="455.4" r="3.0" fill="#b0113a" stroke="#931538" stroke-width="0.8"/><circle cx="361.7" cy="461.7" r="3.0" fill="#b0113a" stroke="#931538" stroke-width="0.8"/><circle cx="365.3" cy="461.7" r="3.0" fill="#b0113a" stroke="#931538" stroke-width="0.8"/><circle cx="369" cy="461.7" r="3.0" fill="#b0113a" stroke="#931538" stroke-width="0.8"/><circle cx="372.6" cy="461.7" r="3.0" fill="#b0113a" stroke="#931538" stroke-width="0.8"/><circle cx="383.3" cy="461.7" r="3.0" fill="#b0113a" stroke="#931538" stroke-width="0.8"/><circle cx="394" cy="461.7" r="3.0" fill="#b0113a" stroke="#931538" stroke-width="0.8"/><circle cx="408.4" cy="461.7" r="3.0" fill="#b0113a" stroke="#931538" stroke-width="0.8"/><circle cx="411.8" cy="461.7" r="3.0" fill="#b0113a" stroke="#931538" stroke-width="0.8"/><circle cx="414.6" cy="461.7" r="3.0" fill="#b0113a" stroke="#931538" stroke-width="0.8"/><circle cx="417.2" cy="461.7" r="3.0" fill="#b0113a" stroke="#931538" stroke-width="0.8"/><circle cx="433.8" cy="461.7" r="3.0" fill="#b0113a" stroke="#931538" stroke-width="0.8"/><circle cx="437.7" cy="461.7" r="3.0" fill="#b0113a" stroke="#931538" stroke-width="0.8"/><circle cx="441.9" cy="461.7" r="3.0" fill="#b0113a" stroke="#931538" stroke-width="0.8"/><circle cx="458.5" cy="461.7" r="3.0" fill="#b0113a" stroke="#931538" stroke-width="0.8"/><circle cx="459.5" cy="503.6" r="3.0" fill="#b0113a" stroke="#931538" stroke-width="0.8"/><circle cx="493.3" cy="503.6" r="3.0" fill="#b0113a" stroke="#931538" stroke-width="0.8"/>
<line x1="102.1" y1="745.8" x2="102.1" y2="978.0" stroke="#000" stroke-width="2.1"/>
<line x1="101" y1="977.0" x2="508.7" y2="977.0" stroke="#000" stroke-width="2"/>
<line x1="97" y1="971.3" x2="102" y2="971.3" stroke="#000" stroke-width="1.6"/>
<text x="92.4" y="975.2" font-size="12.9" text-anchor="end" textLength="16.9" lengthAdjust="spacingAndGlyphs" fill="#2a2a2a" stroke="#2a2a2a" stroke-width="0.2">0.0</text>
<line x1="97" y1="926.8" x2="102" y2="926.8" stroke="#000" stroke-width="1.6"/>
<text x="92.4" y="930.7" font-size="12.9" text-anchor="end" textLength="16.9" lengthAdjust="spacingAndGlyphs" fill="#2a2a2a" stroke="#2a2a2a" stroke-width="0.2">0.2</text>
<line x1="97" y1="882.3" x2="102" y2="882.3" stroke="#000" stroke-width="1.6"/>
<text x="92.4" y="886.2" font-size="12.9" text-anchor="end" textLength="16.9" lengthAdjust="spacingAndGlyphs" fill="#2a2a2a" stroke="#2a2a2a" stroke-width="0.2">0.4</text>
<line x1="97" y1="837.8" x2="102" y2="837.8" stroke="#000" stroke-width="1.6"/>
<text x="92.4" y="841.7" font-size="12.9" text-anchor="end" textLength="16.9" lengthAdjust="spacingAndGlyphs" fill="#2a2a2a" stroke="#2a2a2a" stroke-width="0.2">0.6</text>
<line x1="97" y1="793.3" x2="102" y2="793.3" stroke="#000" stroke-width="1.6"/>
<text x="92.4" y="797.2" font-size="12.9" text-anchor="end" textLength="16.9" lengthAdjust="spacingAndGlyphs" fill="#2a2a2a" stroke="#2a2a2a" stroke-width="0.2">0.8</text>
<line x1="97" y1="748.8" x2="102" y2="748.8" stroke="#000" stroke-width="1.6"/>
<text x="92.4" y="752.7" font-size="12.9" text-anchor="end" textLength="16.9" lengthAdjust="spacingAndGlyphs" fill="#2a2a2a" stroke="#2a2a2a" stroke-width="0.2">1.0</text>
<line x1="105.0" y1="977.0" x2="105.0" y2="982.0" stroke="#000" stroke-width="1.8"/>
<text x="105.0" y="995.8000000000001" font-size="13.4" text-anchor="middle" textLength="7.6" lengthAdjust="spacingAndGlyphs" fill="#2a2a2a" stroke="#2a2a2a" stroke-width="0.2">0</text>
<line x1="151.8" y1="977.0" x2="151.8" y2="982.0" stroke="#000" stroke-width="1.8"/>
<text x="151.9" y="995.8000000000001" font-size="13.4" text-anchor="middle" textLength="7.6" lengthAdjust="spacingAndGlyphs" fill="#2a2a2a" stroke="#2a2a2a" stroke-width="0.2">4</text>
<line x1="198.7" y1="977.0" x2="198.7" y2="982.0" stroke="#000" stroke-width="1.8"/>
<text x="198.8" y="995.8000000000001" font-size="13.4" text-anchor="middle" textLength="7.6" lengthAdjust="spacingAndGlyphs" fill="#2a2a2a" stroke="#2a2a2a" stroke-width="0.2">8</text>
<line x1="245.6" y1="977.0" x2="245.6" y2="982.0" stroke="#000" stroke-width="1.8"/>
<text x="245.7" y="995.8000000000001" font-size="13.4" text-anchor="middle" textLength="13.6" lengthAdjust="spacingAndGlyphs" fill="#2a2a2a" stroke="#2a2a2a" stroke-width="0.2">12</text>
<line x1="292.5" y1="977.0" x2="292.5" y2="982.0" stroke="#000" stroke-width="1.8"/>
<text x="292.6" y="995.8000000000001" font-size="13.4" text-anchor="middle" textLength="13.6" lengthAdjust="spacingAndGlyphs" fill="#2a2a2a" stroke="#2a2a2a" stroke-width="0.2">16</text>
<line x1="339.4" y1="977.0" x2="339.4" y2="982.0" stroke="#000" stroke-width="1.8"/>
<text x="339.5" y="995.8000000000001" font-size="13.4" text-anchor="middle" textLength="13.6" lengthAdjust="spacingAndGlyphs" fill="#2a2a2a" stroke="#2a2a2a" stroke-width="0.2">20</text>
<line x1="386.2" y1="977.0" x2="386.2" y2="982.0" stroke="#000" stroke-width="1.8"/>
<text x="386.3" y="995.8000000000001" font-size="13.4" text-anchor="middle" textLength="13.6" lengthAdjust="spacingAndGlyphs" fill="#2a2a2a" stroke="#2a2a2a" stroke-width="0.2">24</text>
<line x1="433.1" y1="977.0" x2="433.1" y2="982.0" stroke="#000" stroke-width="1.8"/>
<text x="433.2" y="995.8000000000001" font-size="13.4" text-anchor="middle" textLength="13.6" lengthAdjust="spacingAndGlyphs" fill="#2a2a2a" stroke="#2a2a2a" stroke-width="0.2">28</text>
<line x1="480.0" y1="977.0" x2="480.0" y2="982.0" stroke="#000" stroke-width="1.8"/>
<text x="480.1" y="995.8000000000001" font-size="13.4" text-anchor="middle" textLength="13.6" lengthAdjust="spacingAndGlyphs" fill="#2a2a2a" stroke="#2a2a2a" stroke-width="0.2">32</text>
<text x="14.4" y="733.9" font-size="18.4" text-anchor="start" font-weight="bold" fill="#000" stroke="#000" stroke-width="0.5">C</text>
<text x="305" y="734.4" font-size="16" text-anchor="middle" textLength="226" lengthAdjust="spacingAndGlyphs" fill="#231f20" >Duration of Complete Remission</text>
<text transform="translate(66,861.3) rotate(-90)" x="0" y="0" font-size="15.5" text-anchor="middle" textLength="190" lengthAdjust="spacingAndGlyphs" fill="#231f20" stroke="#231f20" stroke-width="0.3">Proportion of patients in remission</text>
<text x="263.5" y="1014.4" font-size="14.6" text-anchor="start" textLength="26.2" lengthAdjust="spacingAndGlyphs" fill="#231f20" stroke="#231f20" stroke-width="0.3">Time</text>
<text x="291.5" y="1014.4" font-size="14.6" text-anchor="start" textLength="50.0" lengthAdjust="spacingAndGlyphs" fill="#231f20" stroke="#231f20" stroke-width="0.3">(months)</text>
<text x="214.6" y="924.6" font-size="12.6" text-anchor="start" textLength="9.6" lengthAdjust="spacingAndGlyphs" fill="#231f20" stroke="#231f20" stroke-width="0.2">N</text>
<text x="239.3" y="924.6" font-size="12.6" text-anchor="start" textLength="35.2" lengthAdjust="spacingAndGlyphs" fill="#231f20" stroke="#231f20" stroke-width="0.2">Events</text>
<line x1="212.6" y1="931.2" x2="276.1" y2="931.2" stroke="#000" stroke-width="1.8"/>
<line x1="125.2" y1="944.2" x2="147.3" y2="944.2" stroke="#931538" stroke-width="2.2"/>
<text x="150.8" y="948.6" font-size="12.6" text-anchor="start" textLength="51" lengthAdjust="spacingAndGlyphs" fill="#231f20" stroke="#231f20" stroke-width="0.2">No ASCT</text>
<text x="219" y="948.6" font-size="12.6" text-anchor="middle" textLength="6.8" lengthAdjust="spacingAndGlyphs" fill="#231f20" stroke="#231f20" stroke-width="0.2">5</text>
<text x="256.5" y="948.6" font-size="12.6" text-anchor="middle" textLength="6.8" lengthAdjust="spacingAndGlyphs" fill="#231f20" stroke="#231f20" stroke-width="0.2">1</text>
<line x1="125.2" y1="962.5" x2="147.3" y2="962.5" stroke="#2c3f6b" stroke-width="2.2"/>
<text x="151.8" y="964.9" font-size="12.6" text-anchor="start" textLength="30.3" lengthAdjust="spacingAndGlyphs" fill="#231f20" stroke="#231f20" stroke-width="0.2">ASCT</text>
<text x="219" y="964.9" font-size="12.6" text-anchor="middle" textLength="13.9" lengthAdjust="spacingAndGlyphs" fill="#231f20" stroke="#231f20" stroke-width="0.2">34</text>
<text x="256.5" y="964.9" font-size="12.6" text-anchor="middle" textLength="13.9" lengthAdjust="spacingAndGlyphs" fill="#231f20" stroke="#231f20" stroke-width="0.2">10</text>
<text x="24.6" y="1033.6" font-size="12.4" text-anchor="start" textLength="94.5" lengthAdjust="spacingAndGlyphs" fill="#231f20" stroke="#231f20" stroke-width="0.2">N at Risk (Events)</text>
<text x="25.1" y="1052.6" font-size="12.4" text-anchor="start" textLength="29.6" lengthAdjust="spacingAndGlyphs" fill="#231f20" stroke="#231f20" stroke-width="0.2">ASCT</text>
<text x="105.0" y="1052.6" font-size="12.4" text-anchor="middle" textLength="27.6" lengthAdjust="spacingAndGlyphs" fill="#231f20" stroke="#231f20" stroke-width="0.2">34(0)</text>
<text x="151.8" y="1052.6" font-size="12.4" text-anchor="middle" textLength="27.6" lengthAdjust="spacingAndGlyphs" fill="#231f20" stroke="#231f20" stroke-width="0.2">33(1)</text>
<text x="198.7" y="1052.6" font-size="12.4" text-anchor="middle" textLength="27.6" lengthAdjust="spacingAndGlyphs" fill="#231f20" stroke="#231f20" stroke-width="0.2">26(4)</text>
<text x="245.6" y="1052.6" font-size="12.4" text-anchor="middle" textLength="27.6" lengthAdjust="spacingAndGlyphs" fill="#231f20" stroke="#231f20" stroke-width="0.2">24(5)</text>
<text x="292.5" y="1052.6" font-size="12.4" text-anchor="middle" textLength="27.6" lengthAdjust="spacingAndGlyphs" fill="#231f20" stroke="#231f20" stroke-width="0.2">22(5)</text>
<text x="339.4" y="1052.6" font-size="12.4" text-anchor="middle" textLength="27.6" lengthAdjust="spacingAndGlyphs" fill="#231f20" stroke="#231f20" stroke-width="0.2">14(9)</text>
<text x="386.2" y="1052.6" font-size="12.4" text-anchor="middle" textLength="27.6" lengthAdjust="spacingAndGlyphs" fill="#231f20" stroke="#231f20" stroke-width="0.2">10(9)</text>
<text x="433.7" y="1052.6" font-size="12.4" text-anchor="middle" textLength="21.5" lengthAdjust="spacingAndGlyphs" fill="#231f20" stroke="#231f20" stroke-width="0.2">3(9)</text>
<text x="480.0" y="1052.6" font-size="12.4" text-anchor="middle" textLength="27.6" lengthAdjust="spacingAndGlyphs" fill="#231f20" stroke="#231f20" stroke-width="0.2">0(10)</text>
<text x="25.1" y="1071.0" font-size="12.4" text-anchor="start" textLength="49.6" lengthAdjust="spacingAndGlyphs" fill="#231f20" stroke="#231f20" stroke-width="0.2">No ASCT</text>
<text x="105.5" y="1071.0" font-size="12.4" text-anchor="middle" textLength="21.5" lengthAdjust="spacingAndGlyphs" fill="#231f20" stroke="#231f20" stroke-width="0.2">5(0)</text>
<text x="152.4" y="1071.0" font-size="12.4" text-anchor="middle" textLength="21.5" lengthAdjust="spacingAndGlyphs" fill="#231f20" stroke="#231f20" stroke-width="0.2">4(0)</text>
<text x="199.3" y="1071.0" font-size="12.4" text-anchor="middle" textLength="21.5" lengthAdjust="spacingAndGlyphs" fill="#231f20" stroke="#231f20" stroke-width="0.2">2(1)</text>
<text x="246.2" y="1071.0" font-size="12.4" text-anchor="middle" textLength="21.5" lengthAdjust="spacingAndGlyphs" fill="#231f20" stroke="#231f20" stroke-width="0.2">2(1)</text>
<text x="293.1" y="1071.0" font-size="12.4" text-anchor="middle" textLength="21.5" lengthAdjust="spacingAndGlyphs" fill="#231f20" stroke="#231f20" stroke-width="0.2">1(1)</text>
<text x="340.0" y="1071.0" font-size="12.4" text-anchor="middle" textLength="21.5" lengthAdjust="spacingAndGlyphs" fill="#231f20" stroke="#231f20" stroke-width="0.2">1(1)</text>
<text x="386.8" y="1071.0" font-size="12.4" text-anchor="middle" textLength="21.5" lengthAdjust="spacingAndGlyphs" fill="#231f20" stroke="#231f20" stroke-width="0.2">1(1)</text>
<text x="433.7" y="1071.0" font-size="12.4" text-anchor="middle" textLength="21.5" lengthAdjust="spacingAndGlyphs" fill="#231f20" stroke="#231f20" stroke-width="0.2">1(1)</text>
<path d="M105.2,750 H136.7 V757.1 H167.7 V763.8 H172.8 V771.3 H186.4 V779.0 H235.8 V786.2 H298.8 V802.7 H324.8 V812.6 H333 V823.8 H442.2 V897.5 H478.2" fill="none" stroke="#2c3f6b" stroke-width="2.1" stroke-linejoin="miter" stroke-linecap="butt"/>
<circle cx="151.5" cy="757.1" r="3.0" fill="#37518d" stroke="#2c3f6b" stroke-width="0.8"/><circle cx="155.6" cy="757.1" r="3.0" fill="#37518d" stroke="#2c3f6b" stroke-width="0.8"/><circle cx="159.6" cy="757.1" r="3.0" fill="#37518d" stroke="#2c3f6b" stroke-width="0.8"/><circle cx="170.4" cy="763.8" r="3.0" fill="#37518d" stroke="#2c3f6b" stroke-width="0.8"/><circle cx="236.7" cy="786.2" r="3.0" fill="#37518d" stroke="#2c3f6b" stroke-width="0.8"/><circle cx="284.4" cy="786.2" r="3.0" fill="#37518d" stroke="#2c3f6b" stroke-width="0.8"/><circle cx="292.7" cy="786.2" r="3.0" fill="#37518d" stroke="#2c3f6b" stroke-width="0.8"/><circle cx="303.7" cy="802.7" r="3.0" fill="#37518d" stroke="#2c3f6b" stroke-width="0.8"/><circle cx="307.5" cy="802.7" r="3.0" fill="#37518d" stroke="#2c3f6b" stroke-width="0.8"/><circle cx="310.8" cy="802.7" r="3.0" fill="#37518d" stroke="#2c3f6b" stroke-width="0.8"/><circle cx="330.6" cy="812.6" r="3.0" fill="#37518d" stroke="#2c3f6b" stroke-width="0.8"/><circle cx="344.2" cy="823.9" r="3.0" fill="#37518d" stroke="#2c3f6b" stroke-width="0.8"/><circle cx="355" cy="823.9" r="3.0" fill="#37518d" stroke="#2c3f6b" stroke-width="0.8"/><circle cx="358.5" cy="823.9" r="3.0" fill="#37518d" stroke="#2c3f6b" stroke-width="0.8"/><circle cx="367.7" cy="823.9" r="3.0" fill="#37518d" stroke="#2c3f6b" stroke-width="0.8"/><circle cx="392.7" cy="823.9" r="3.0" fill="#37518d" stroke="#2c3f6b" stroke-width="0.8"/><circle cx="396.6" cy="823.9" r="3.0" fill="#37518d" stroke="#2c3f6b" stroke-width="0.8"/><circle cx="400.5" cy="823.9" r="3.0" fill="#37518d" stroke="#2c3f6b" stroke-width="0.8"/><circle cx="424.3" cy="823.9" r="3.0" fill="#37518d" stroke="#2c3f6b" stroke-width="0.8"/><circle cx="442.1" cy="823.9" r="3.0" fill="#37518d" stroke="#2c3f6b" stroke-width="0.8"/><circle cx="478.2" cy="897.7" r="3.0" fill="#37518d" stroke="#2c3f6b" stroke-width="0.8"/>
<path d="M105.2,750.2 H193.5 V806.1 H445.8" fill="none" stroke="#931538" stroke-width="2.1" stroke-linejoin="miter" stroke-linecap="butt"/>
<circle cx="105.4" cy="750.1" r="3.0" fill="#b0113a" stroke="#931538" stroke-width="0.8"/><circle cx="195" cy="806.1" r="3.0" fill="#b0113a" stroke="#931538" stroke-width="0.8"/><circle cx="265" cy="806.1" r="3.0" fill="#b0113a" stroke="#931538" stroke-width="0.8"/><circle cx="445.8" cy="806.1" r="3.0" fill="#b0113a" stroke="#931538" stroke-width="0.8"/>
<path d="M187.4,779.0 H199.5" fill="none" stroke="#2c3f6b" stroke-width="2.1" stroke-linejoin="miter" stroke-linecap="butt"/>
<rect x="0" y="0" width="520" height="2" fill="#000"/>
<rect x="0" y="0" width="2" height="1086" fill="#000"/>
<rect x="518" y="0" width="2" height="1086" fill="#000"/>
<rect x="0" y="1083.6" width="520" height="2.4" fill="#000"/>
</svg>
</body></html>
